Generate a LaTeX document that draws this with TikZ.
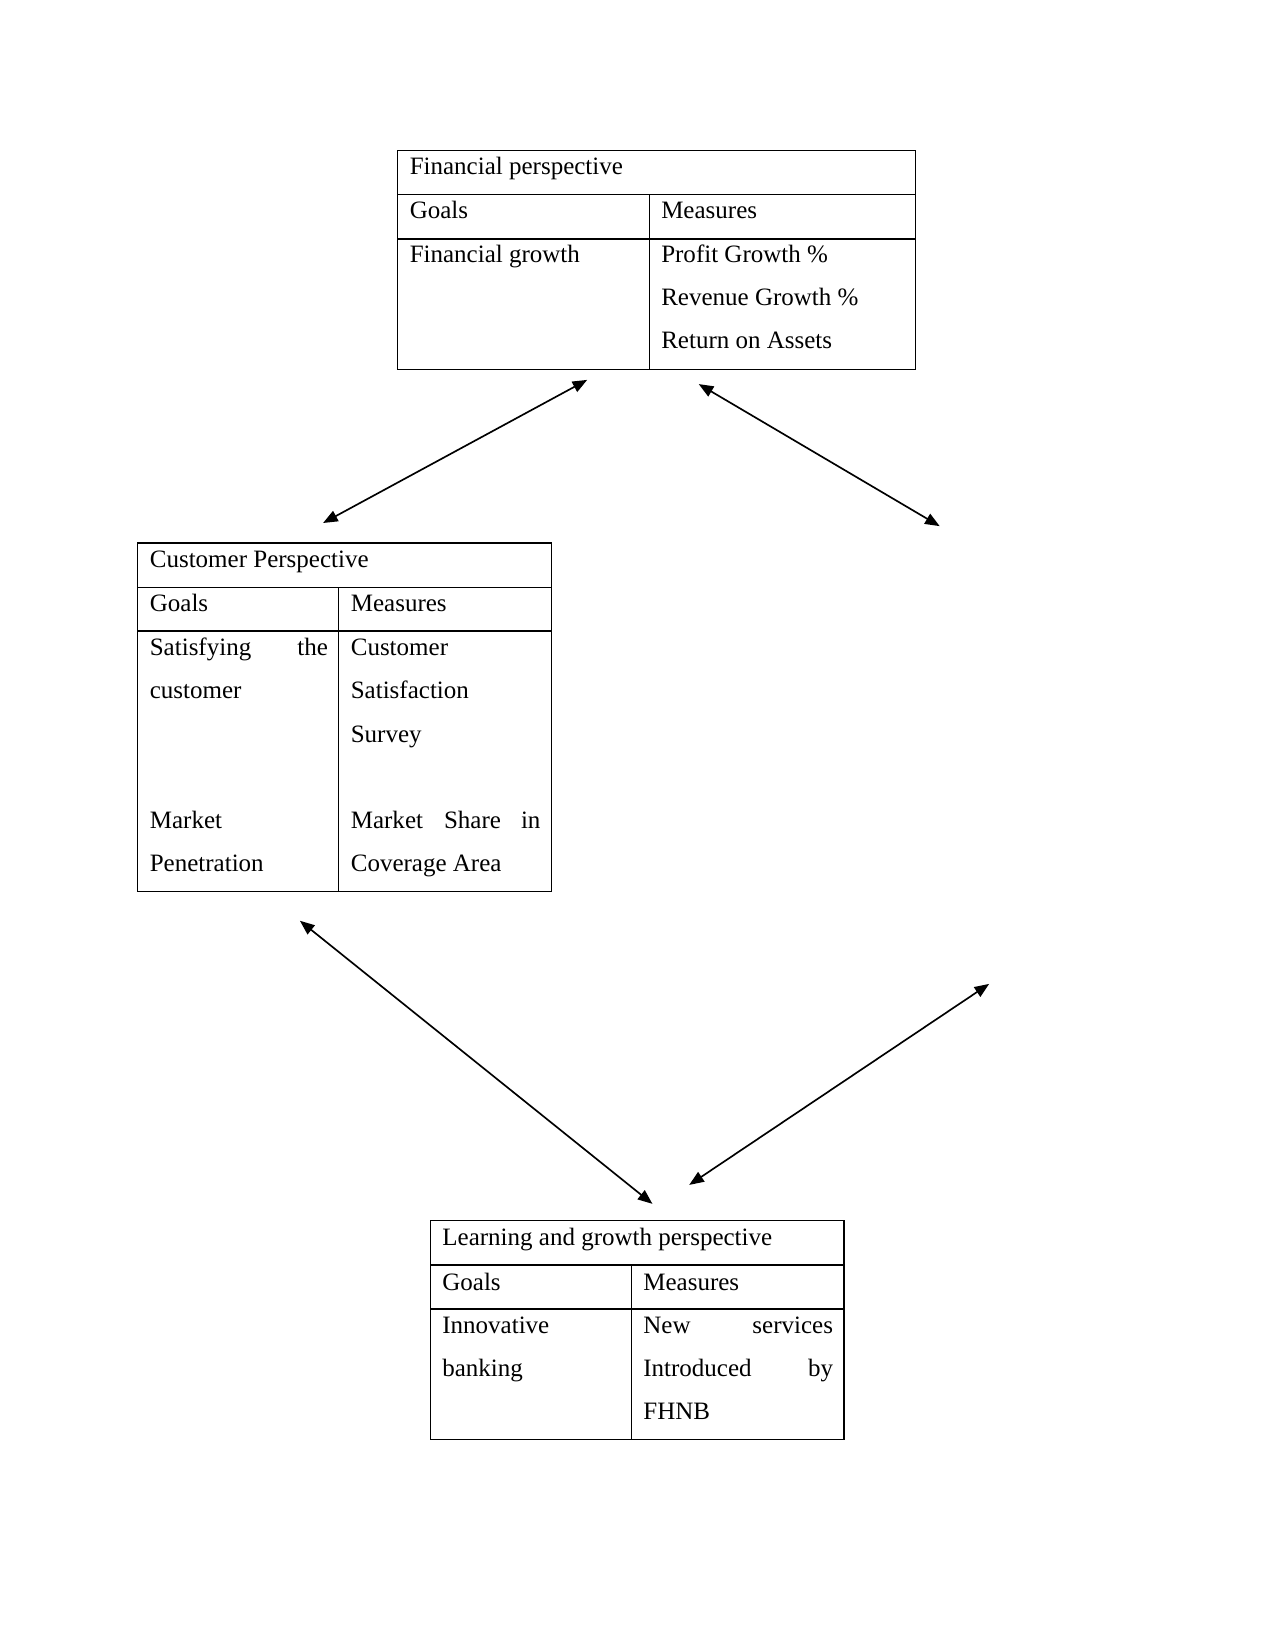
\documentclass[tikz,border=0pt]{standalone}
\usepackage{fontspec}
\setmainfont{Liberation Serif}
\usetikzlibrary{arrows.meta}
\begin{document}
\begin{tikzpicture}[x=0.50496pt,y=-0.50496pt,
 cell/.style={inner sep=0pt, anchor=base west, font=\fontsize{12}{14}\selectfont},
 cellr/.style={cell, anchor=base east},
 tbl/.style={draw=black, line width=0.6pt},
 link/.style={line width=0.8pt, {Triangle[length=7pt,width=5.5pt]}-{Triangle[length=7pt,width=5.5pt]}}]
\useasboundingbox (0,0) rectangle (1212,1568);
\fill[white] (0,0) rectangle (1212,1568);

% ---- Financial perspective table
\draw[tbl] (378,143) rectangle (870,351);
\draw[tbl] (378,185) -- (870,185);
\draw[tbl] (378,227) -- (870,227);
\draw[tbl] (617,185) -- (617,351);
\node[cell] (f-title) at (389,166) {Financial perspective};
\node[cell] (f-goals) at (389,208) {Goals};
\node[cell] (f-meas) at (628,208) {Measures};
\node[cell] (f-g1) at (389,249) {Financial growth};
\node[cell] (f-m1) at (628,249) {Profit Growth \%};
\node[cell] (f-m2) at (628,290) {Revenue Growth \%};
\node[cell] (f-m3) at (628,331) {Return on Assets};

% ---- Customer perspective table
\draw[tbl] (131,516) rectangle (524,847);
\draw[tbl] (131,558) -- (524,558);
\draw[tbl, line width=0.9pt] (131,600) -- (524,600);
\draw[tbl] (322,558) -- (322,847);
\node[cell] (c-title) at (142,539) {Customer Perspective};
\node[cell] (c-goals) at (142,581) {Goals};
\node[cell] (c-meas) at (333,581) {Measures};
\node[cell] (c-g1a) at (142,623) {Satisfying};
\node[cellr] (c-g1b) at (312,623) {the};
\node[cell] (c-g1c) at (142,664) {customer};
\node[cell] (c-m1a) at (333,623) {Customer};
\node[cell] (c-m1b) at (333,664) {Satisfaction};
\node[cell] (c-m1c) at (333,706) {Survey};
\node[cell] (c-g2a) at (142,787) {Market};
\node[cell] (c-g2b) at (142,828) {Penetration};
\node[cell] (c-m2a) at (333,787) {Market};
\node[cell, anchor=base] (c-m2b) at (449,787) {Share};
\node[cellr] (c-m2c) at (514,787) {in};
\node[cell] (c-m2d) at (333,828) {Coverage Area};

% ---- Learning and growth perspective table
\draw[tbl] (409,1160) rectangle (802,1368);
\draw[tbl] (409,1202) -- (802,1202);
\draw[tbl] (409,1244) -- (802,1244);
\draw[tbl] (600,1202) -- (600,1368);
\node[cell] (l-title) at (420,1184) {Learning and growth perspective};
\node[cell] (l-goals) at (420,1226) {Goals};
\node[cell] (l-meas) at (611,1226) {Measures};
\node[cell] (l-g1a) at (420,1267) {Innovative};
\node[cell] (l-g1b) at (420,1308) {banking};
\node[cell] (l-m1a) at (611,1267) {New};
\node[cellr] (l-m1b) at (792,1267) {services};
\node[cell] (l-m2a) at (611,1308) {Introduced};
\node[cellr] (l-m2b) at (792,1308) {by};
\node[cell] (l-m3) at (611,1349) {FHNB};

% ---- arrows
\coordinate (a1s) at (558,361);
\coordinate (a1e) at (307,497);
\coordinate (a2s) at (664,365);
\coordinate (a2e) at (893,500);
\coordinate (a3s) at (285,875);
\coordinate (a3e) at (620,1144);
\coordinate (a4s) at (940,935);
\coordinate (a4e) at (655,1126);
\draw[link] (a1s) -- (a1e);
\draw[link] (a2s) -- (a2e);
\draw[link] (a3s) -- (a3e);
\draw[link] (a4s) -- (a4e);
\end{tikzpicture}
\end{document}
